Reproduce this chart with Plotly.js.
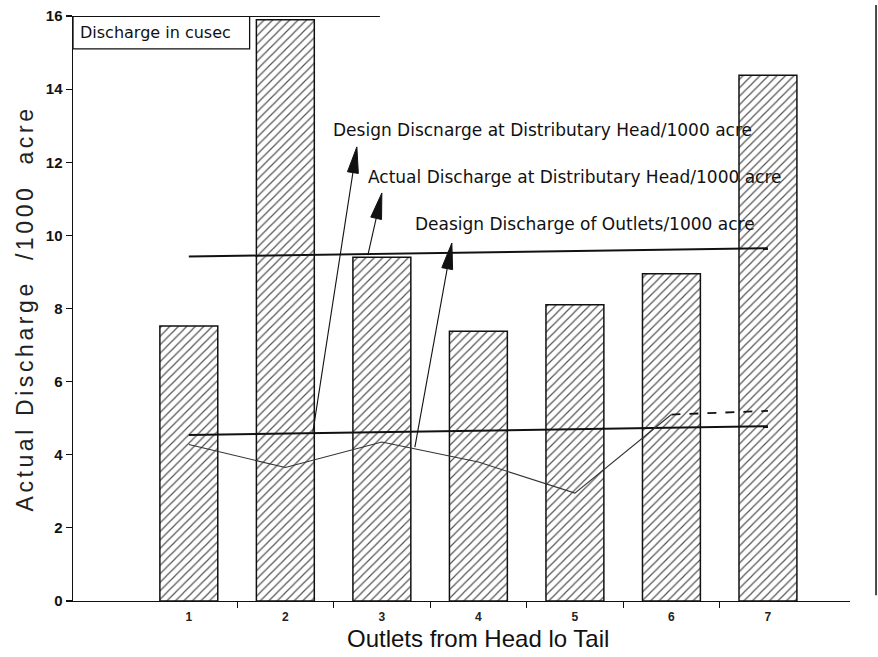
<!DOCTYPE html>
<html><head><meta charset="utf-8">
<script src="https://cdn.plot.ly/plotly-3.0.1.min.js"></script>
<style>
html,body{margin:0;padding:0;background:#fff;}
#chart{width:878px;height:657px;}
.ytitle{letter-spacing:3.6px;}
</style>
</head><body><div id="chart"></div>
<script>
// ---------- data ----------
const outlets = [1, 2, 3, 4, 5, 6, 7];
const outletLabels = ['1', '2', '3', '4', '5', '6', '7'];
const actualOutletDischarge = [7.52, 15.9, 9.4, 7.38, 8.1, 8.95, 14.38];
const designHeadX = [1, 7];
const designHead = [9.42, 9.65];
const designOutletX = [1, 7];
const designOutlet = [4.54, 4.78];
const actualHead = [4.28, 3.65, 4.35, 3.8, 2.95, 5.1, 5.2];
const boundaryTicks = [1.5, 2.5, 3.5, 4.5, 5.5, 6.5];
const yTicks = [0, 2, 4, 6, 8, 10, 12, 14, 16];
const noteTexts = [
  'Design Discnarge at Distributary Head/1000 acre',
  'Actual Discharge at Distributary Head/1000 acre',
  'Deasign Discharge of Outlets/1000 acre'
];
const boxText = 'Discharge in cusec';
const xTitle = 'Outlets from Head lo Tail';
const yTitle = 'Actual Discharge  /1000  acre';

// ---------- layout constants ----------
const XR = [-0.2, 7.85], YR = [0, 16];
const M = {l: 73, r: 28, t: 16, b: 56};
const W = 878, H = 657;
const pxX = (W - M.l - M.r) / (XR[1] - XR[0]);
const pxY = (H - M.t - M.b) / (YR[1] - YR[0]);

// arrow geometry (tail -> tip) in axis units
const arrows = [
  {x0: 2.285, y0: 4.62, x1: 2.741, y1: 12.42},
  {x0: 2.855, y0: 9.46, x1: 3.0,   y1: 11.16},
  {x0: 3.342, y0: 4.21, x1: 3.725, y1: 9.79}
];
const notePos = [
  {x: 2.468, y: 12.88, size: 17},
  {x: 2.835, y: 11.6, size: 17},
  {x: 3.325, y: 10.31, size: 17}
];

const ink = '#111';
const shapes = [];
arrows.forEach(a => {
  let dx = (a.x1 - a.x0) * pxX, dy = (a.y1 - a.y0) * pxY;
  const len = Math.hypot(dx, dy); dx /= len; dy /= len;
  const L = 26, hw = 5.5;
  const bx = a.x1 - L * dx / pxX, by = a.y1 - L * dy / pxY;
  const px = -dy, py = dx;
  const v1x = bx + hw * px / pxX, v1y = by + hw * py / pxY;
  const v2x = bx - hw * px / pxX, v2y = by - hw * py / pxY;
  shapes.push({type: 'line', xref: 'x', yref: 'y', x0: a.x0, y0: a.y0, x1: bx, y1: by,
    line: {color: ink, width: 1.1}});
  shapes.push({type: 'path', xref: 'x', yref: 'y',
    path: `M${a.x1},${a.y1} L${v1x},${v1y} L${v2x},${v2y} Z`,
    fillcolor: ink, line: {color: ink, width: 1}});
});
// top border line and legend-like box
shapes.push({type: 'line', xref: 'x', yref: 'y', x0: XR[0], x1: 2.98, y0: 16, y1: 16,
  line: {color: ink, width: 2}});
shapes.push({type: 'rect', xref: 'x', yref: 'y', x0: XR[0], x1: 1.63, y0: 15.1, y1: 16,
  line: {color: ink, width: 1.3}});
// right scan border
shapes.push({type: 'line', xref: 'paper', yref: 'paper', x0: 1.0335, x1: 1.0335, y0: 0.01, y1: 1.019,
  line: {color: ink, width: 1.5}});

const traces = [
  {type: 'bar', x: outlets, y: actualOutletDischarge, width: 0.6,
   marker: {color: 'white', line: {color: ink, width: 1.5},
            pattern: {shape: '/', fgcolor: '#555', bgcolor: 'white', size: 6, solidity: 0.2}},
   hoverinfo: 'skip'},
  {type: 'scatter', mode: 'lines', x: designHeadX, y: designHead,
   line: {color: ink, width: 2}},
  {type: 'scatter', mode: 'lines', x: designOutletX, y: designOutlet,
   line: {color: ink, width: 2}},
  {type: 'scatter', mode: 'lines', x: outlets.slice(0, 6), y: actualHead.slice(0, 6),
   line: {color: '#333', width: 1.1}},
  {type: 'scatter', mode: 'lines', x: outlets.slice(5), y: actualHead.slice(5),
   line: {color: ink, width: 1.8, dash: 'dash'}}
];

const annotations = noteTexts.map((t, i) => ({
  text: t, xref: 'x', yref: 'y', x: notePos[i].x, y: notePos[i].y,
  xanchor: 'left', yanchor: 'middle', showarrow: false,
  font: {family: 'DejaVu Sans', size: notePos[i].size, color: ink}
}));
annotations.push({text: boxText, xref: 'x', yref: 'y', x: -0.15, y: 15.55,
  xanchor: 'left', yanchor: 'middle', showarrow: false,
  font: {family: 'DejaVu Sans', size: 16, color: ink}});
annotations.push({text: xTitle, xref: 'paper', yref: 'paper', x: 0.521, y: -0.064,
  xanchor: 'center', yanchor: 'middle', showarrow: false,
  font: {family: 'Liberation Sans', size: 24, color: ink}});

const layout = {
  width: W, height: H, margin: M,
  paper_bgcolor: 'white', plot_bgcolor: 'white',
  showlegend: false,
  xaxis: {range: XR, tickmode: 'array', tickvals: outlets, ticktext: outletLabels,
    ticks: '', ticklabelstandoff: 4, showgrid: false, zeroline: false,
    showline: true, linecolor: ink, linewidth: 1.2,
    tickfont: {family: 'Liberation Sans', size: 12, weight: 'bold', color: '#222'},
    minor: {tickmode: 'array', tickvals: boundaryTicks, ticks: 'outside', ticklen: 6,
            tickcolor: ink, tickwidth: 1, showgrid: false}},
  yaxis: {range: YR, tickmode: 'array', tickvals: yTicks, ticks: 'outside', ticklen: 6,
    tickwidth: 1.2, tickcolor: ink, showgrid: false, zeroline: false,
    showline: true, linecolor: ink, linewidth: 1.5,
    tickfont: {family: 'Liberation Sans', size: 15, weight: 'bold', color: ink},
    title: {text: yTitle, standoff: 6,
            font: {family: 'Liberation Sans', size: 23, color: '#222'}}},
  shapes: shapes,
  annotations: annotations
};

Plotly.newPlot('chart', traces, layout, {displayModeBar: false, staticPlot: true});
</script>
</body></html>
